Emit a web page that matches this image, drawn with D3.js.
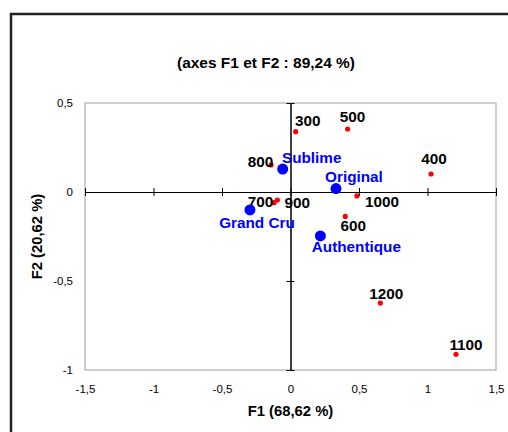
<!DOCTYPE html>
<meta charset="utf-8">
<script src="https://d3js.org/d3.v7.min.js"></script>
<style>
  body { margin: 0; background: #fff; }
  text { font-family: "Liberation Sans", Arial, sans-serif; }
</style>
<div id="chart"></div>
<script>

// observations (red) and products (blue), coordinates on F1 / F2
var obsNames = ["300", "500", "400", "1000", "600", "800", "700", "900", "1200", "1100"];
var obsF1 = [0.038, 0.417, 1.026, 0.485, 0.400, -0.142, -0.120, -0.096, 0.656, 1.208];
var obsF2 = [0.339, 0.354, 0.101, -0.022, -0.137, 0.152, -0.060, -0.045, -0.624, -0.912];

var prodNames = ["Sublime", "Original", "Authentique", "Grand Cru"];
var prodF1 = [-0.057, 0.332, 0.218, -0.296];
var prodF2 = [0.129, 0.019, -0.247, -0.101];

var xTicks = [-1.5, -1, -0.5, 0, 0.5, 1, 1.5];
var yTicks = [-1, -0.5, 0, 0.5];

// where each label sits relative to its point
var labelOffset = {
  "300": [12, -11], "500": [5, -12], "400": [3, -15.5], "1000": [25, 5.5],
  "600": [8, 9.5], "800": [-10.5, -3], "700": [-13.5, -1.5], "900": [20, 2],
  "1200": [6, -10], "1100": [10, -10],
  "Sublime": [29, -11.5], "Original": [18, -12], "Authentique": [36, 11], "Grand Cru": [7, 13]
};

var width = 508, height = 432;

var svg = d3.select("#chart").append("svg")
  .attr("width", width)
  .attr("height", height);

// outer chart border
svg.append("rect")
  .attr("x", 11).attr("y", 14)
  .attr("width", 600).attr("height", 600)
  .attr("fill", "none")
  .attr("stroke", "#222")
  .attr("stroke-width", 2.5);

var x = d3.scaleLinear().domain([-1.5, 1.5]).range([85, 496]);
var y = d3.scaleLinear().domain([-1, 0.5]).range([370, 103]);

var fmt = function(d) { return String(d).replace(".", ","); };

// plot area frame
svg.append("rect")
  .attr("x", x(-1.5)).attr("y", y(0.5))
  .attr("width", x(1.5) - x(-1.5))
  .attr("height", y(-1) - y(0.5))
  .attr("fill", "none")
  .attr("stroke", "#a0a0a0")
  .attr("stroke-width", 1);

// zero axes with ticks crossing the line
function crossAxis(g) {
  g.selectAll("path.domain").attr("stroke", "#000");
  g.selectAll("line").attr("stroke", "#000");
  g.selectAll("text").remove();
}
svg.append("g").attr("transform", "translate(0," + y(0) + ")")
  .call(d3.axisBottom(x).tickValues(xTicks).tickSize(4).tickSizeOuter(0)).call(crossAxis);
svg.append("g").attr("transform", "translate(0," + y(0) + ")")
  .call(d3.axisTop(x).tickValues(xTicks).tickSize(4).tickSizeOuter(0)).call(crossAxis);
svg.append("g").attr("transform", "translate(" + x(0) + ",0)")
  .call(d3.axisLeft(y).tickValues(yTicks).tickSize(4).tickSizeOuter(0)).call(crossAxis);
svg.append("g").attr("transform", "translate(" + x(0) + ",0)")
  .call(d3.axisRight(y).tickValues(yTicks).tickSize(4).tickSizeOuter(0)).call(crossAxis);

// tick labels
var xLab = svg.append("g").attr("transform", "translate(0," + (y(-1) + 12) + ")")
  .call(d3.axisBottom(x).tickValues(xTicks).tickSize(0).tickFormat(fmt));
xLab.select(".domain").remove();
xLab.selectAll("text").attr("font-size", 11.5).attr("fill", "#000")
  .attr("font-family", "Liberation Sans, Arial, sans-serif");

var yLab = svg.append("g").attr("transform", "translate(" + (x(-1.5) - 9) + ",0)")
  .call(d3.axisLeft(y).tickValues(yTicks).tickSize(0).tickFormat(fmt));
yLab.select(".domain").remove();
yLab.selectAll("text").attr("font-size", 11.5).attr("fill", "#000")
  .attr("font-family", "Liberation Sans, Arial, sans-serif");

// titles
svg.append("text")
  .attr("x", 266).attr("y", 62)
  .attr("text-anchor", "middle").attr("dominant-baseline", "central")
  .attr("font-weight", "bold").attr("font-size", 15)
  .attr("textLength", 178).attr("lengthAdjust", "spacingAndGlyphs")
  .text("(axes F1 et F2 : 89,24 %)");

svg.append("text")
  .attr("x", (x(-1.5) + x(1.5)) / 2).attr("y", 411)
  .attr("text-anchor", "middle").attr("dominant-baseline", "central")
  .attr("font-weight", "bold").attr("font-size", 14.8)
  .text("F1 (68,62 %)");

svg.append("text")
  .attr("transform", "translate(37," + ((y(0.5) + y(-1)) / 2) + ") rotate(-90)")
  .attr("text-anchor", "middle").attr("dominant-baseline", "central")
  .attr("font-weight", "bold").attr("font-size", 14.8)
  .text("F2 (20,62 %)");

// red observation points
obsNames.forEach(function(n, i) {
  svg.append("circle")
    .attr("cx", x(obsF1[i])).attr("cy", y(obsF2[i]))
    .attr("r", 2.6).attr("fill", "#ff0000");
});
obsNames.forEach(function(n, i) {
  svg.append("text")
    .attr("x", x(obsF1[i]) + labelOffset[n][0])
    .attr("y", y(obsF2[i]) + labelOffset[n][1])
    .attr("text-anchor", "middle").attr("dominant-baseline", "central")
    .attr("font-weight", "bold").attr("font-size", 15.3)
    .attr("fill", "#000")
    .text(n);
});

// blue product points
prodNames.forEach(function(n, i) {
  svg.append("circle")
    .attr("cx", x(prodF1[i])).attr("cy", y(prodF2[i]))
    .attr("r", 5.5).attr("fill", "#0000ff");
  svg.append("text")
    .attr("x", x(prodF1[i]) + labelOffset[n][0])
    .attr("y", y(prodF2[i]) + labelOffset[n][1])
    .attr("text-anchor", "middle").attr("dominant-baseline", "central")
    .attr("font-weight", "bold").attr("font-size", 15.3)
    .attr("fill", "#0000ff")
    .text(n);
});

</script>
